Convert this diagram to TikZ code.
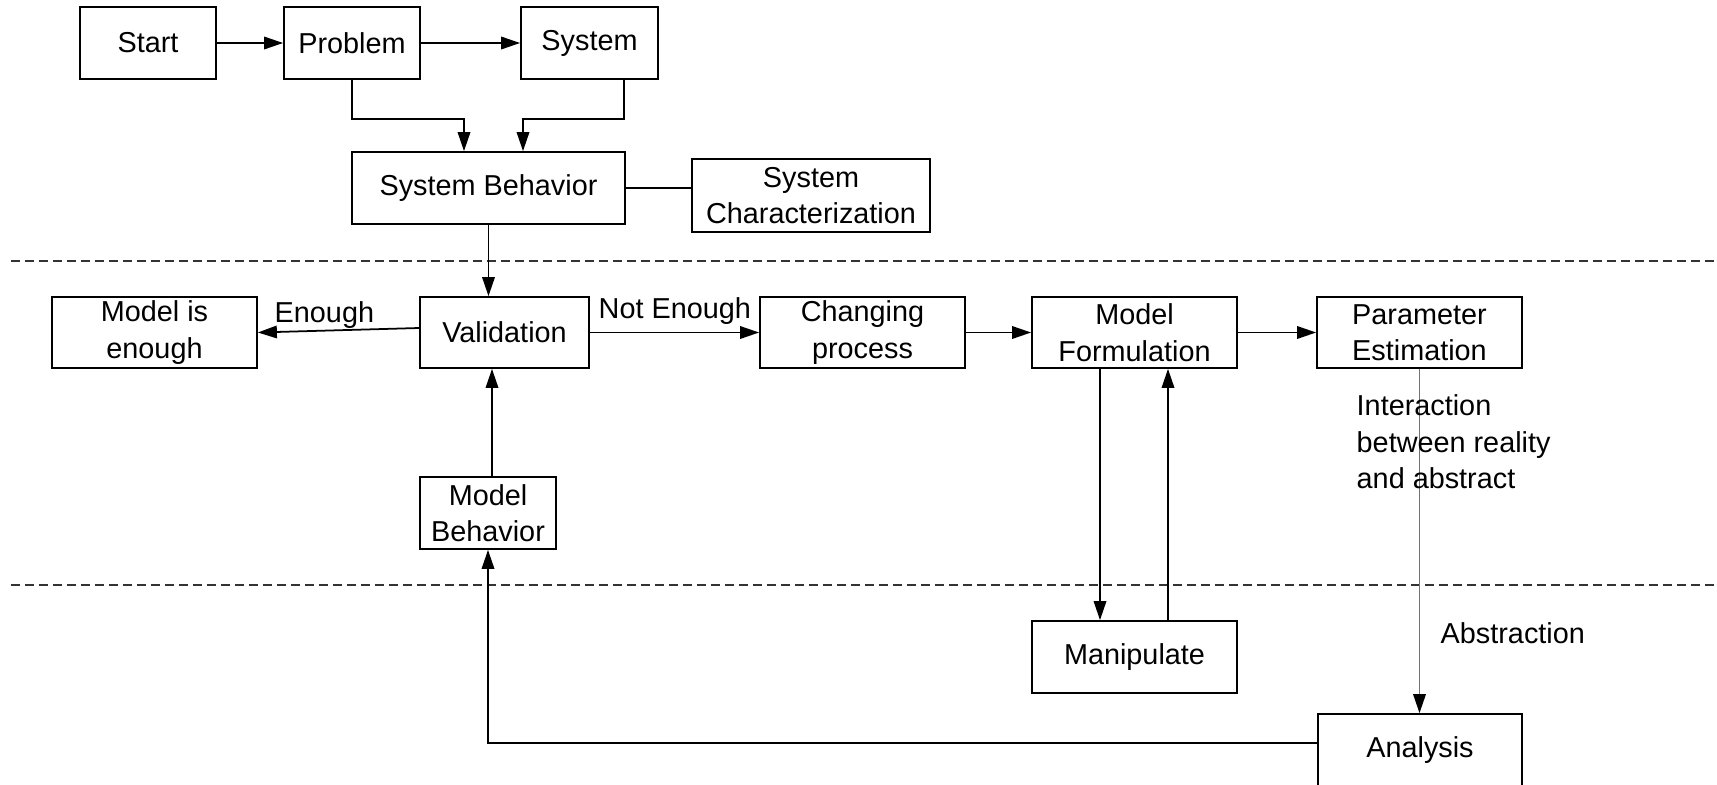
\documentclass[tikz,border=0pt]{standalone}
\usepackage{fontspec}
\setmainfont{Liberation Sans}
\usepackage{tikz}
\usetikzlibrary{arrows.meta,positioning}

\begin{document}
\begin{tikzpicture}[
    font=\fontsize{8.2}{10.4}\selectfont,
    stage/.style={draw,minimum height=7.2mm,inner sep=0pt,align=center,fill=white,line width=0.5pt},
    arr/.style={line width=0.5pt,-{Triangle[length=1.9mm,width=1.25mm]}},
    link/.style={line width=0.5pt},
    sep/.style={draw=black!80,line width=0.55pt,dash pattern=on 0.09cm off 0.05cm},
    lbl/.style={inner sep=0pt,align=left}
]
    \useasboundingbox (0,0) rectangle (17.17,-7.85);

    % Separators between the three levels
    \draw[sep] (0.11,-2.606) -- (17.17,-2.606);
    \draw[sep] (0.11,-5.85)  -- (17.17,-5.85);

    % Top row: reality side
    \node[stage,minimum width=13.6mm] (Start)   at (1.48,-0.43)  {Start};
    \node[stage,minimum width=13.6mm] (Problem) at (3.52,-0.43)  {Problem};
    \node[stage,minimum width=13.7mm] (System)  at (5.895,-0.43) {System};
    \node[stage,minimum width=27.3mm] (SB)      at (4.885,-1.88) {System Behavior};
    \node[stage,minimum width=23.8mm,minimum height=7.3mm] (SC) at (8.11,-1.955) {System\\Characterization};

    % Middle row
    \node[stage,minimum width=20.5mm,minimum height=7.1mm] (ME) at (1.545,-3.325) {Model is\\enough};
    \node[stage,minimum width=16.9mm,minimum height=7.1mm] (Val) at (5.045,-3.325) {Validation};
    \node[stage,minimum width=20.5mm,minimum height=7.1mm] (CP) at (8.625,-3.325) {Changing\\process};
    \node[stage,minimum width=20.5mm,minimum height=7.1mm] (MF) at (11.345,-3.325) {Model\\Formulation};
    \node[stage,minimum width=20.5mm,minimum height=7.1mm] (PE) at (14.195,-3.325) {Parameter\\Estimation};
    \node[stage,minimum width=13.6mm] (MB) at (4.88,-5.13) {Model\\Behavior};

    % Bottom row: abstract side
    \node[stage,minimum width=20.5mm] (Man) at (11.345,-6.57) {Manipulate};
    \node[stage,minimum width=20.4mm] (An)  at (14.2,-7.5)    {Analysis};

    % Connectors
    \draw[arr] (Start) -- (Problem);
    \draw[arr] (Problem) -- (System);
    \draw[arr] (Problem.south) -- ++(0,-0.39) -| ([xshift=-0.245cm]SB.north);
    \draw[arr] ([xshift=0.345cm]System.south) -- ++(0,-0.39) -| ([xshift=0.345cm]SB.north);
    \draw[link] (SB.east) -- (SB.east -| SC.west);
    \draw[arr] (SB.south) -- (SB.south |- Val.north);
    \draw[arr] ([yshift=0.045cm]Val.west) -- (ME.east);
    \draw[arr] (Val) -- (CP);
    \draw[arr] (CP) -- (MF);
    \draw[arr] (MF) -- (PE);
    \draw[arr] ([xshift=0.04cm]MB.north) -- ([xshift=0.04cm]MB.north |- Val.south);
    \draw[arr] ([xshift=-0.345cm]MF.south) -- ([xshift=-0.345cm]MF.south |- Man.north);
    \draw[arr] ([xshift=0.335cm]Man.north) -- ([xshift=0.335cm]Man.north |- MF.south);
    \draw[line width=0.5pt,draw=black!55,-{Triangle[length=1.9mm,width=1.25mm,color=black]}] (PE.south) -- (PE.south |- An.north);
    \draw[arr] ([yshift=0.07cm]An.west) -| (MB.south);

    % Labels
    \node[lbl,anchor=west] (enough)    at (2.74,-3.15)  {Enough};
    \node[lbl,anchor=west] (notenough) at (5.98,-3.11)  {Not Enough};
    \node[lbl,anchor=west] (inter)     at (13.56,-4.42) {Interaction\\between reality\\and abstract};
    \node[lbl,anchor=west] (abstr)     at (14.40,-6.33) {Abstraction};
\end{tikzpicture}
\end{document}
